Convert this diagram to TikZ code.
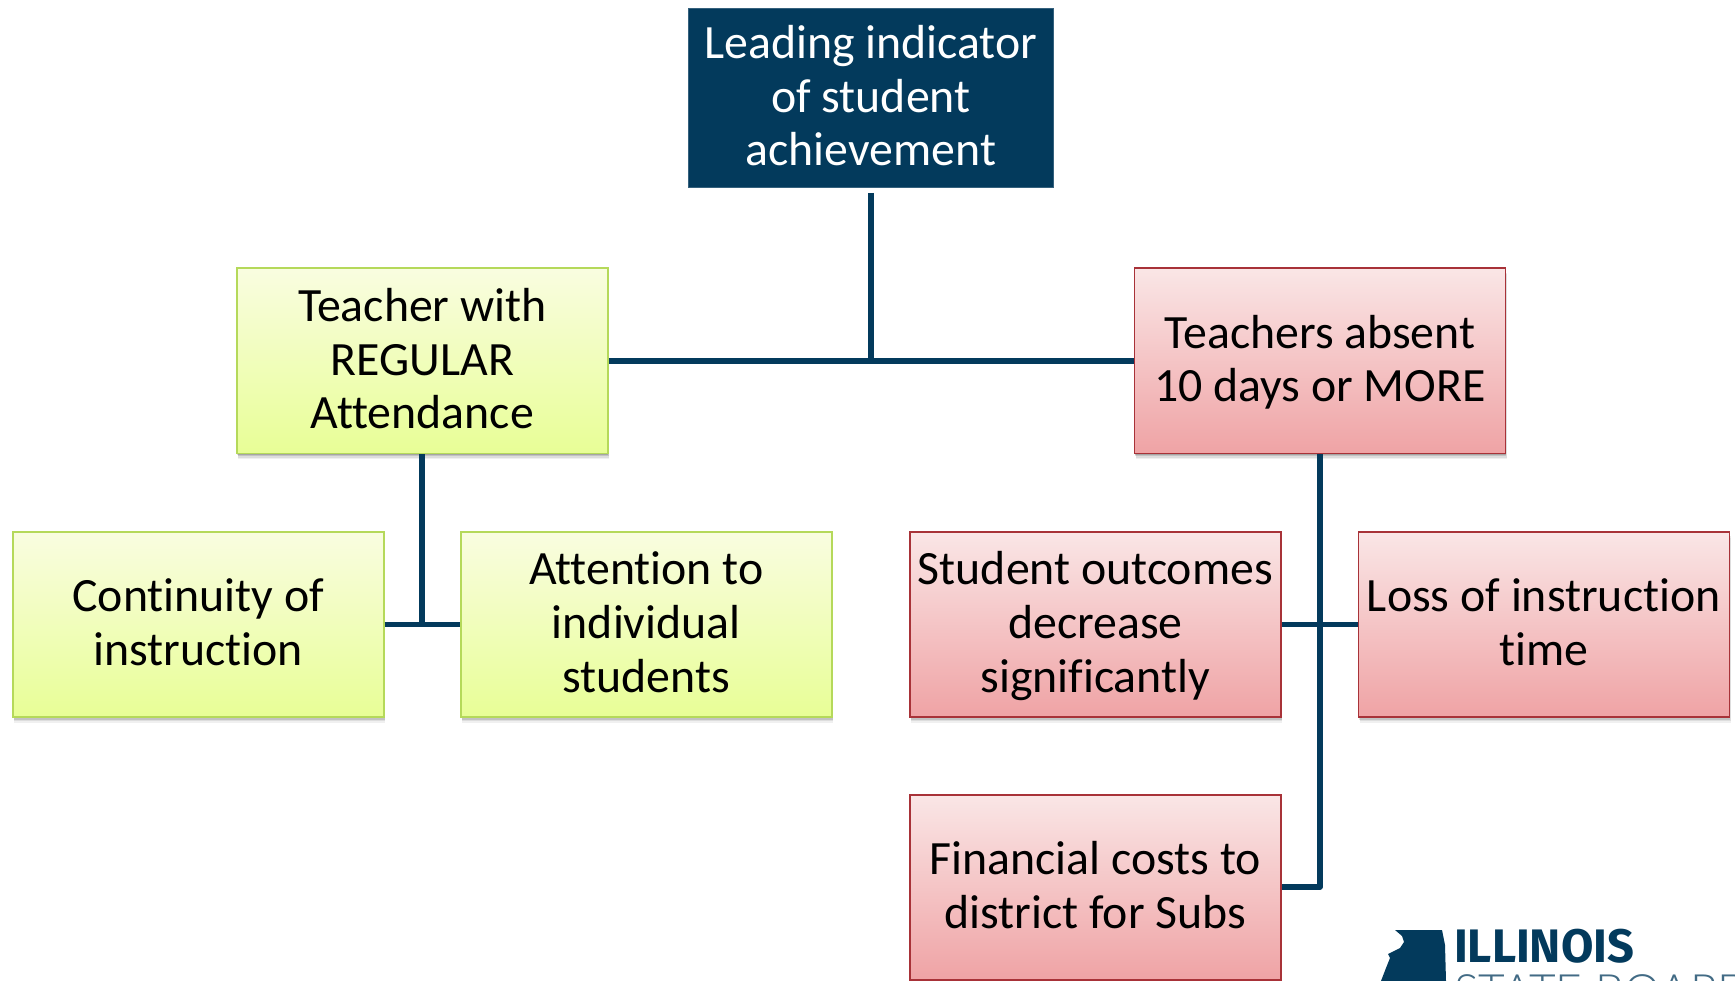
\documentclass[tikz,border=0pt]{standalone}
\usepackage{fontspec}
\setmainfont{Carlito}[Ligatures=NoCommon]
\newfontfamily\logobold{Fira Sans}[UprightFont=*,BoldFont=* Bold]
\newfontfamily\logolight{Lato Light}
\definecolor{navy}{HTML}{033A5C}
\definecolor{grnT}{HTML}{F9FDE0}
\definecolor{grnB}{HTML}{E8FE96}
\definecolor{grnL}{HTML}{B5D95A}
\definecolor{redT}{HTML}{FAE6E6}
\definecolor{redB}{HTML}{EFA3A5}
\definecolor{redL}{HTML}{A83238}
\newcommand{\ls}{\vrule width 0pt height 40.6pt depth 12.1pt\relax}
\tikzset{
  x=1pt,y=-1pt,
  shadowlayer/.style n args={3}{preaction={draw=none,fill=black,opacity=#3,transform canvas={shift={(#1,#2)}}}},
  boxbase/.style={rectangle,anchor=north west,minimum width=371pt,minimum height=185pt,
    inner sep=0pt,align=center,line width=1.6pt,
    font=\fontsize{47.8}{52.7}\selectfont,
    shadowlayer={1.5pt}{-6pt}{.06},
    shadowlayer={1.5pt}{-4.5pt}{.08},
    shadowlayer={1pt}{-3pt}{.12},
    shadowlayer={.5pt}{-1.5pt}{.15}},
  grnbox/.style={boxbase,draw=grnL,top color=grnT,bottom color=grnB},
  redbox/.style={boxbase,draw=redL,top color=redT,bottom color=redB},
  topbox/.style={rectangle,anchor=north west,minimum width=365pt,minimum height=179pt,
    inner sep=0pt,align=center,fill=navy,draw=navy!80!white,line width=.6pt,text=white,
    font=\fontsize{47.8}{52.7}\selectfont},
  conn/.style={draw=navy,line width=5.6pt},
}
\begin{document}
\begin{tikzpicture}
\useasboundingbox (0,0) rectangle (1735,981);
\fill[white] (0,0) rectangle (1735,981);
\coordinate (topfree) at (871,193);
\coordinate (j1) at (871,361);
\coordinate (lj) at (422,624);
\coordinate (fj) at (1320,887);

\node[topbox] (top) at (688,8) {\ls Leading indicator\\\ls of student\\\ls achievement};
\node[grnbox] (tl) at (236,267.5) {\ls Teacher with\\\ls REGULAR\\\ls Attendance};
\node[redbox] (tr) at (1133.5,267.5) {\ls Teachers absent\\\ls 10 days or MORE};
\node[grnbox] (cont) at (12,531) {\ls Continuity of\\\ls instruction};
\node[grnbox] (atte) at (460,531) {\ls Attention to\\\ls individual\\\ls students};
\node[redbox] (stud) at (909,531) {\ls Student outcomes\\\ls decrease\\\ls significantly};
\node[redbox] (loss) at (1357.5,531) {\ls Loss of instruction\\\ls time};
\node[redbox] (fina) at (909,794) {\ls Financial costs to\\\ls district for Subs};

\draw[conn] (topfree) -- (j1);
\draw[conn] (tl.east) -- (tr.west);
\draw[conn] (tl.south -| lj) -- (lj);
\draw[conn] (cont.east) -- (atte.west);
\draw[conn] (stud.east) -- (loss.west);
\draw[conn,line join=round] (tr.south -| fj) -- (fj) -- (fina.east |- fj);

% logo
\begin{scope}
\clip (1370,920) rectangle (1735,981);
\fill[navy] (1395,930) -- (1442,930) -- (1445,945) -- (1446,981) -- (1381,981)
  -- (1386,968) -- (1390,958) -- (1388,954) -- (1392,952) -- (1400,948) -- (1404,942) -- (1402,936) -- cycle;
\node[anchor=north west,inner sep=0pt,text=navy] (il) at (1454,929)
  {\logobold\bfseries\fontsize{47}{47}\selectfont ILLINOIS};
\node[anchor=north west,inner sep=0pt,text=navy!75!white] (sb) at (1454,974)
  {\logolight\fontsize{46}{46}\selectfont STATE BOARD};
\end{scope}
\end{tikzpicture}
\end{document}
